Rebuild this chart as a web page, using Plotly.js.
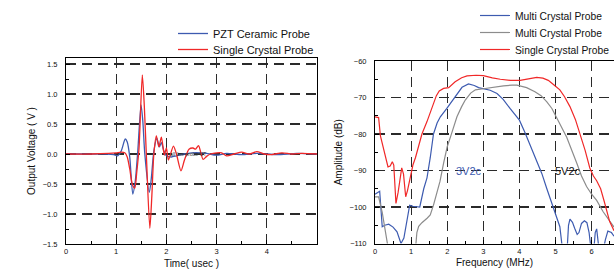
<!DOCTYPE html>
<html>
<head>
<meta charset="utf-8">
<script src="https://cdn.plot.ly/plotly-3.0.1.min.js"></script>
<style>html,body{margin:0;padding:0;background:#fff;overflow:hidden;}#chart{width:614px;height:269px;}</style>
</head>
<body>
<div id="chart"></div>
<script>
// ---- Left panel: time-domain echo (usec, V)
const timePZT = [0, 0.5, 0.8, 0.95, 1.03, 1.1, 1.18, 1.22, 1.27, 1.33, 1.38, 1.43, 1.495, 1.53, 1.57, 1.66, 1.70, 1.75, 1.81, 1.86, 1.9, 1.95, 2.0, 2.1, 2.2, 2.35, 2.5, 2.7, 2.8, 3.0, 3.2, 3.5, 3.8, 4.2, 4.6, 5.0];
const voltPZT = [0, 0, 0, -0.01, -0.03, 0.05, 0.25, 0.2, -0.05, -0.67, -0.45, 0.05, 0.82, 0.55, 0.0, -0.64, -0.4, 0.05, 0.26, 0.12, 0.19, 0.05, -0.03, -0.05, -0.03, 0.0, 0.02, 0.02, 0.01, -0.02, 0.01, -0.01, 0.01, -0.01, 0.01, 0.0];
const timeSC = [0, 0.5, 0.85, 1.0, 1.1, 1.17, 1.22, 1.27, 1.32, 1.37, 1.41, 1.455, 1.52, 1.56, 1.6, 1.67, 1.71, 1.75, 1.8, 1.85, 1.9, 1.96, 2.0, 2.04, 2.14, 2.2, 2.29, 2.36, 2.45, 2.53, 2.58, 2.64, 2.73, 2.8, 2.88, 3.0, 3.1, 3.2, 3.35, 3.5, 3.65, 3.8, 3.95, 4.1, 4.3, 4.5, 4.7, 5.0];
const voltSC = [0, 0, 0.01, 0.02, 0.03, 0.02, -0.05, -0.25, -0.5, -0.57, -0.3, 0.1, 1.32, 0.8, 0.0, -1.24, -0.7, 0.0, 0.3, 0.12, 0.28, -0.02, 0.1, -0.1, 0.13, 0.0, -0.28, -0.1, 0.08, 0.1, 0.08, 0.14, -0.09, -0.04, 0.0, 0.02, 0.02, -0.03, 0.0, 0.03, 0.0, 0.04, 0.0, -0.01, 0.02, 0.0, 0.01, 0.0];
const timeTicks = [0, 1, 2, 3, 4];
const voltTicks = [-1.5, -1.0, -0.5, 0.0, 0.5, 1.0, 1.5];

// ---- Right panel: spectra (MHz, dB)
const freqMultiA = [0, 0.06, 0.13, 0.2, 0.27, 0.38, 0.5, 0.61, 0.72, 0.8, 0.9, 0.96, 1.05, 1.24, 1.35, 1.44, 1.53, 1.62, 1.72, 1.81, 1.99, 2.1, 2.22, 2.41, 2.59, 2.75, 2.87, 3.0, 3.19, 3.38, 3.55, 3.74, 4.0, 4.15, 4.3, 4.46, 4.62, 4.76, 4.9, 5.02, 5.12, 5.18, 5.25, 5.32, 5.36, 5.4, 5.47, 5.53, 5.6, 5.65, 5.72, 5.8, 5.87, 5.93, 6.0, 6.06, 6.1, 6.14, 6.18, 6.22, 6.3, 6.38, 6.45, 6.55, 6.62];
const ampMultiA = [-96.5, -96.2, -95.7, -105.4, -105, -104.7, -105.5, -106.8, -110, -108.5, -102.5, -99.5, -99.8, -100, -95, -92, -86.5, -80, -77, -75.3, -73, -71.5, -69.8, -67.2, -66.3, -66.7, -67.3, -67.6, -68, -68.9, -70.5, -73, -76.2, -79.5, -83, -87, -90.8, -95, -99, -102.3, -105.4, -110.5, -113, -112, -105, -103.3, -104.2, -105.8, -107.5, -107, -104.5, -103.8, -104.3, -107, -113, -112, -107, -106, -109, -113, -113, -109, -106.6, -107, -108];
const freqMultiB = [0, 0.1, 0.2, 0.3, 0.36, 0.5, 0.8, 1.1, 1.16, 1.21, 1.3, 1.45, 1.53, 1.62, 1.72, 1.8, 1.9, 2.0, 2.1, 2.27, 2.4, 2.5, 2.65, 2.78, 3.0, 3.25, 3.56, 3.8, 3.93, 4.2, 4.43, 4.6, 4.76, 4.9, 5.03, 5.15, 5.31, 5.45, 5.59, 5.72, 5.86, 6.0, 6.14, 6.32, 6.49, 6.62];
const ampMultiB = [-97.2, -97.2, -101.5, -107.5, -111, -115, -116, -114, -107, -105.3, -104.3, -103, -102.2, -99.5, -96, -93, -88, -83.5, -80.5, -75.3, -72.5, -70.7, -68.8, -67.9, -67.6, -67.2, -66.8, -66.6, -66.6, -67.3, -68.4, -69.5, -71.2, -73, -75.3, -77.8, -80.9, -84.3, -88, -91.5, -94.4, -96.5, -98.2, -101.3, -103.6, -105.5];
const freqSingle = [0, 0.1, 0.15, 0.2, 0.29, 0.36, 0.42, 0.48, 0.52, 0.58, 0.64, 0.7, 0.74, 0.79, 0.85, 0.9, 0.97, 1.05, 1.12, 1.2, 1.3, 1.44, 1.58, 1.7, 1.78, 1.9, 2.04, 2.22, 2.4, 2.55, 2.8, 3.0, 3.25, 3.47, 3.75, 4.02, 4.25, 4.48, 4.65, 4.8, 4.95, 5.12, 5.25, 5.4, 5.55, 5.68, 5.82, 5.95, 6.05, 6.14, 6.25, 6.35, 6.5, 6.62];
const ampSingle = [-75.3, -75.5, -80.5, -82.5, -85.5, -89, -88.8, -87.6, -88.5, -99, -96, -91, -89.3, -91, -97.2, -95.5, -92.5, -88.5, -86.5, -83.5, -80, -76.6, -72.5, -69.5, -68.2, -67.5, -67.3, -65.7, -64.6, -64.1, -63.9, -64.0, -64.6, -65.0, -65.3, -65.3, -64.9, -64.5, -64.7, -65.3, -66.5, -67.9, -69.8, -72.5, -76, -79.8, -84.5, -89.3, -91.5, -92.8, -95, -98.5, -104, -106.5];
const freqTicks = [0, 1, 2, 3, 4, 5, 6];
const ampTicks = [-110, -100, -90, -80, -70, -60];

const BLUE = '#3d5bb0', RED = '#f02828', GRAY = '#8c8c8c';
const FONT = 'Liberation Sans, Arial, sans-serif';

const traces = [
  {x: timePZT, y: voltPZT, xaxis: 'x', yaxis: 'y', type: 'scatter', mode: 'lines', name: 'PZT Ceramic Probe',
   line: {color: BLUE, width: 1.3, shape: 'spline', smoothing: 0.7}, legend: 'legend'},
  {x: timeSC, y: voltSC, xaxis: 'x', yaxis: 'y', type: 'scatter', mode: 'lines', name: 'Single Crystal Probe',
   line: {color: RED, width: 1.3, shape: 'spline', smoothing: 0.7}, legend: 'legend2'},
  {x: freqMultiA, y: ampMultiA, xaxis: 'x2', yaxis: 'y2', type: 'scatter', mode: 'lines', name: 'Multi Crystal Probe',
   line: {color: BLUE, width: 1.2}, legend: 'legend3'},
  {x: freqMultiB, y: ampMultiB, xaxis: 'x2', yaxis: 'y2', type: 'scatter', mode: 'lines', name: 'Multi Crystal Probe',
   line: {color: GRAY, width: 1.2}, legend: 'legend4'},
  {x: freqSingle, y: ampSingle, xaxis: 'x2', yaxis: 'y2', type: 'scatter', mode: 'lines', name: 'Single Crystal Probe',
   line: {color: RED, width: 1.2}, legend: 'legend5'}
];

const W = 614, H = 269;
function axisBase() {
  return {
    showline: true, linecolor: '#000', linewidth: 1, mirror: true,
    showgrid: true, gridcolor: '#2a2a2a', gridwidth: 1.1, griddash: '10px,6px',
    zeroline: false, ticks: 'inside', ticklen: 4, tickcolor: '#000', tickwidth: 1,
    tickfont: {family: FONT, size: 7.5, color: '#111'}, automargin: false, fixedrange: true
  };
}
function legendAt(px, centerPy, size) {
  return {x: px / W, xanchor: 'left', y: 1 - (centerPy - 14) / H, yanchor: 'top',
          bgcolor: 'rgba(0,0,0,0)', borderwidth: 0, font: {family: FONT, size: size, color: '#111'}};
}

const layout = {
  width: W, height: H,
  margin: {l: 0, r: 0, t: 0, b: 0, autoexpand: false},
  paper_bgcolor: '#fff', plot_bgcolor: '#fff',
  font: {family: FONT, color: '#111'},
  showlegend: true,
  xaxis: Object.assign(axisBase(), {
    domain: [66 / W, 317 / W], range: [0, 5], tickvals: timeTicks, anchor: 'y',
    minor: {ticks: 'inside', dtick: 0.5, ticklen: 3, tickcolor: '#000', showgrid: false},
    title: {text: 'Time( usec )', font: {family: FONT, size: 10, color: '#111'}, standoff: 4}
  }),
  yaxis: Object.assign(axisBase(), {
    domain: [(H - 244) / H, (H - 58) / H], range: [-1.5, 1.6], tickvals: voltTicks, tickformat: '.1f', anchor: 'x',
    ticklabelstandoff: 6,
    minor: {ticks: 'inside', dtick: 0.25, ticklen: 3, tickcolor: '#000', showgrid: false},
    title: {text: 'Output Voltage ( V )', font: {family: FONT, size: 10, color: '#111'}, standoff: 5}
  }),
  xaxis2: Object.assign(axisBase(), {
    domain: [375 / W, 1], range: [0, 6.62], tickvals: freqTicks, anchor: 'y2',
    minor: {ticks: 'inside', dtick: 0.5, ticklen: 3, tickcolor: '#000', showgrid: false},
    title: {text: 'Frequency (MHz)', font: {family: FONT, size: 10, color: '#111'}, standoff: 4}
  }),
  yaxis2: Object.assign(axisBase(), {
    domain: [(H - 243.5) / H, (H - 61) / H], range: [-110, -60], tickvals: ampTicks, anchor: 'x2',
    mirror: false, ticklabelstandoff: 6,
    minor: {ticks: 'inside', dtick: 5, ticklen: 3, tickcolor: '#000', showgrid: false},
    title: {text: 'Amplitude (dB)', font: {family: FONT, size: 10, color: '#111'}, standoff: 5}
  }),
  legend: legendAt(173, 33, 11),
  legend2: legendAt(173, 49, 11),
  legend3: legendAt(475, 15, 10.3),
  legend4: legendAt(475, 32, 10.3),
  legend5: legendAt(475, 49, 10.3),
  annotations: [
    {xref: 'x2', yref: 'y2', x: 2.18, y: -90, text: '3V2c', showarrow: false, xanchor: 'left', yanchor: 'middle',
     font: {family: FONT, size: 11, color: BLUE}},
    {xref: 'x2', yref: 'y2', x: 4.92, y: -90, text: '5V2c', showarrow: false, xanchor: 'left', yanchor: 'middle',
     font: {family: FONT, size: 11, color: '#111'}},
    {xref: 'x', yref: 'y', x: 2.03, y: 0.0, text: 'all line probe UT', showarrow: false, xanchor: 'left', yanchor: 'middle',
     font: {family: FONT, size: 5, color: '#333'}}
  ]
};

Plotly.newPlot('chart', traces, layout, {displayModeBar: false, staticPlot: true});
</script>
</body>
</html>
